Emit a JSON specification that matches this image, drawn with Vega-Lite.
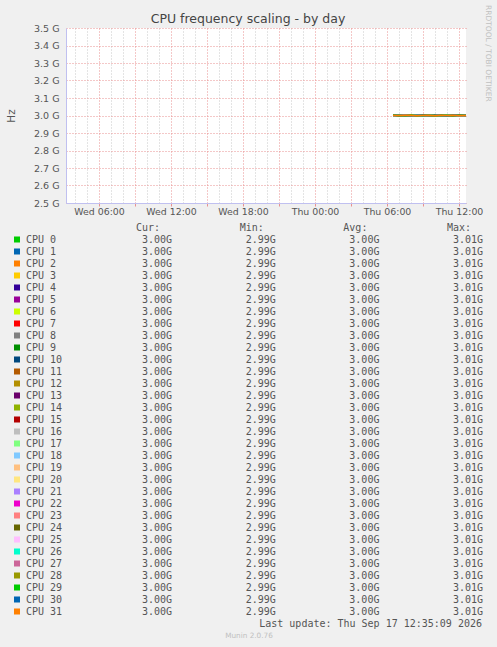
{
"$schema": "https://vega.github.io/schema/vega-lite/v6.json",
"width": 400,
"height": 175,
"autosize": {"type": "none"},
"padding": {"left": 66, "top": 28, "right": 31, "bottom": 444},
"background": "#f0f0f0",
"config": {"view": {"fill": "white", "stroke": null}, "font": "DejaVu Sans"},
"title": {"text": "CPU frequency scaling - by day", "font": "DejaVu Sans", "fontSize": 12.5, "fontWeight": "normal", "color": "#444444", "anchor": "middle", "frame": "group", "dx": -18, "baseline": "alphabetic", "offset": -30},
"datasets": {
"legend": [
{"c":"00","cpu":"CPU 0","cur":"3.00G","min":"2.99G","avg":"3.00G","max":"3.01G"},
{"c":"01","cpu":"CPU 1","cur":"3.00G","min":"2.99G","avg":"3.00G","max":"3.01G"},
{"c":"02","cpu":"CPU 2","cur":"3.00G","min":"2.99G","avg":"3.00G","max":"3.01G"},
{"c":"03","cpu":"CPU 3","cur":"3.00G","min":"2.99G","avg":"3.00G","max":"3.01G"},
{"c":"04","cpu":"CPU 4","cur":"3.00G","min":"2.99G","avg":"3.00G","max":"3.01G"},
{"c":"05","cpu":"CPU 5","cur":"3.00G","min":"2.99G","avg":"3.00G","max":"3.01G"},
{"c":"06","cpu":"CPU 6","cur":"3.00G","min":"2.99G","avg":"3.00G","max":"3.01G"},
{"c":"07","cpu":"CPU 7","cur":"3.00G","min":"2.99G","avg":"3.00G","max":"3.01G"},
{"c":"08","cpu":"CPU 8","cur":"3.00G","min":"2.99G","avg":"3.00G","max":"3.01G"},
{"c":"09","cpu":"CPU 9","cur":"3.00G","min":"2.99G","avg":"3.00G","max":"3.01G"},
{"c":"10","cpu":"CPU 10","cur":"3.00G","min":"2.99G","avg":"3.00G","max":"3.01G"},
{"c":"11","cpu":"CPU 11","cur":"3.00G","min":"2.99G","avg":"3.00G","max":"3.01G"},
{"c":"12","cpu":"CPU 12","cur":"3.00G","min":"2.99G","avg":"3.00G","max":"3.01G"},
{"c":"13","cpu":"CPU 13","cur":"3.00G","min":"2.99G","avg":"3.00G","max":"3.01G"},
{"c":"14","cpu":"CPU 14","cur":"3.00G","min":"2.99G","avg":"3.00G","max":"3.01G"},
{"c":"15","cpu":"CPU 15","cur":"3.00G","min":"2.99G","avg":"3.00G","max":"3.01G"},
{"c":"16","cpu":"CPU 16","cur":"3.00G","min":"2.99G","avg":"3.00G","max":"3.01G"},
{"c":"17","cpu":"CPU 17","cur":"3.00G","min":"2.99G","avg":"3.00G","max":"3.01G"},
{"c":"18","cpu":"CPU 18","cur":"3.00G","min":"2.99G","avg":"3.00G","max":"3.01G"},
{"c":"19","cpu":"CPU 19","cur":"3.00G","min":"2.99G","avg":"3.00G","max":"3.01G"},
{"c":"20","cpu":"CPU 20","cur":"3.00G","min":"2.99G","avg":"3.00G","max":"3.01G"},
{"c":"21","cpu":"CPU 21","cur":"3.00G","min":"2.99G","avg":"3.00G","max":"3.01G"},
{"c":"22","cpu":"CPU 22","cur":"3.00G","min":"2.99G","avg":"3.00G","max":"3.01G"},
{"c":"23","cpu":"CPU 23","cur":"3.00G","min":"2.99G","avg":"3.00G","max":"3.01G"},
{"c":"24","cpu":"CPU 24","cur":"3.00G","min":"2.99G","avg":"3.00G","max":"3.01G"},
{"c":"25","cpu":"CPU 25","cur":"3.00G","min":"2.99G","avg":"3.00G","max":"3.01G"},
{"c":"26","cpu":"CPU 26","cur":"3.00G","min":"2.99G","avg":"3.00G","max":"3.01G"},
{"c":"27","cpu":"CPU 27","cur":"3.00G","min":"2.99G","avg":"3.00G","max":"3.01G"},
{"c":"28","cpu":"CPU 28","cur":"3.00G","min":"2.99G","avg":"3.00G","max":"3.01G"},
{"c":"29","cpu":"CPU 29","cur":"3.00G","min":"2.99G","avg":"3.00G","max":"3.01G"},
{"c":"30","cpu":"CPU 30","cur":"3.00G","min":"2.99G","avg":"3.00G","max":"3.01G"},
{"c":"31","cpu":"CPU 31","cur":"3.00G","min":"2.99G","avg":"3.00G","max":"3.01G"}
],
"heads": [{"col":"Cur:"},{"col":"Min:"},{"col":"Avg:"},{"col":"Max:"}],
"freq": [
{"c":"00","t":"2026-09-17 06:30","v":3.000},{"c":"00","t":"2026-09-17 07:00","v":2.999},{"c":"00","t":"2026-09-17 07:30","v":3.001},{"c":"00","t":"2026-09-17 08:00","v":3.000},{"c":"00","t":"2026-09-17 08:30","v":2.999},{"c":"00","t":"2026-09-17 09:00","v":3.001},{"c":"00","t":"2026-09-17 09:30","v":3.000},{"c":"00","t":"2026-09-17 10:00","v":3.002},{"c":"00","t":"2026-09-17 10:30","v":2.999},{"c":"00","t":"2026-09-17 11:00","v":3.000},{"c":"00","t":"2026-09-17 11:30","v":3.001},{"c":"00","t":"2026-09-17 12:00","v":2.999},{"c":"00","t":"2026-09-17 12:35","v":3.000},
{"c":"01","t":"2026-09-17 06:30","v":2.999},{"c":"01","t":"2026-09-17 07:00","v":3.001},{"c":"01","t":"2026-09-17 07:30","v":3.000},{"c":"01","t":"2026-09-17 08:00","v":3.000},{"c":"01","t":"2026-09-17 08:30","v":3.002},{"c":"01","t":"2026-09-17 09:00","v":3.000},{"c":"01","t":"2026-09-17 09:30","v":2.998},{"c":"01","t":"2026-09-17 10:00","v":3.000},{"c":"01","t":"2026-09-17 10:30","v":3.001},{"c":"01","t":"2026-09-17 11:00","v":2.999},{"c":"01","t":"2026-09-17 11:30","v":3.000},{"c":"01","t":"2026-09-17 12:00","v":3.001},{"c":"01","t":"2026-09-17 12:35","v":2.999},
{"c":"02","t":"2026-09-17 06:30","v":3.001},{"c":"02","t":"2026-09-17 07:00","v":3.000},{"c":"02","t":"2026-09-17 07:30","v":2.998},{"c":"02","t":"2026-09-17 08:00","v":3.001},{"c":"02","t":"2026-09-17 08:30","v":3.000},{"c":"02","t":"2026-09-17 09:00","v":2.999},{"c":"02","t":"2026-09-17 09:30","v":3.002},{"c":"02","t":"2026-09-17 10:00","v":2.999},{"c":"02","t":"2026-09-17 10:30","v":3.000},{"c":"02","t":"2026-09-17 11:00","v":3.001},{"c":"02","t":"2026-09-17 11:30","v":2.999},{"c":"02","t":"2026-09-17 12:00","v":3.000},{"c":"02","t":"2026-09-17 12:35","v":3.001},
{"c":"03","t":"2026-09-17 06:30","v":3.000},{"c":"03","t":"2026-09-17 07:00","v":3.002},{"c":"03","t":"2026-09-17 07:30","v":3.000},{"c":"03","t":"2026-09-17 08:00","v":2.998},{"c":"03","t":"2026-09-17 08:30","v":3.001},{"c":"03","t":"2026-09-17 09:00","v":3.000},{"c":"03","t":"2026-09-17 09:30","v":2.999},{"c":"03","t":"2026-09-17 10:00","v":3.000},{"c":"03","t":"2026-09-17 10:30","v":3.002},{"c":"03","t":"2026-09-17 11:00","v":2.998},{"c":"03","t":"2026-09-17 11:30","v":3.000},{"c":"03","t":"2026-09-17 12:00","v":3.001},{"c":"03","t":"2026-09-17 12:35","v":3.000},
{"c":"04","t":"2026-09-17 06:30","v":3.000},{"c":"04","t":"2026-09-17 07:00","v":2.999},{"c":"04","t":"2026-09-17 07:30","v":3.001},{"c":"04","t":"2026-09-17 08:00","v":3.000},{"c":"04","t":"2026-09-17 08:30","v":2.999},{"c":"04","t":"2026-09-17 09:00","v":3.001},{"c":"04","t":"2026-09-17 09:30","v":3.000},{"c":"04","t":"2026-09-17 10:00","v":3.002},{"c":"04","t":"2026-09-17 10:30","v":2.999},{"c":"04","t":"2026-09-17 11:00","v":3.000},{"c":"04","t":"2026-09-17 11:30","v":3.001},{"c":"04","t":"2026-09-17 12:00","v":2.999},{"c":"04","t":"2026-09-17 12:35","v":3.000},
{"c":"05","t":"2026-09-17 06:30","v":2.999},{"c":"05","t":"2026-09-17 07:00","v":3.001},{"c":"05","t":"2026-09-17 07:30","v":3.000},{"c":"05","t":"2026-09-17 08:00","v":3.000},{"c":"05","t":"2026-09-17 08:30","v":3.002},{"c":"05","t":"2026-09-17 09:00","v":3.000},{"c":"05","t":"2026-09-17 09:30","v":2.998},{"c":"05","t":"2026-09-17 10:00","v":3.000},{"c":"05","t":"2026-09-17 10:30","v":3.001},{"c":"05","t":"2026-09-17 11:00","v":2.999},{"c":"05","t":"2026-09-17 11:30","v":3.000},{"c":"05","t":"2026-09-17 12:00","v":3.001},{"c":"05","t":"2026-09-17 12:35","v":2.999},
{"c":"06","t":"2026-09-17 06:30","v":3.001},{"c":"06","t":"2026-09-17 07:00","v":3.000},{"c":"06","t":"2026-09-17 07:30","v":2.998},{"c":"06","t":"2026-09-17 08:00","v":3.001},{"c":"06","t":"2026-09-17 08:30","v":3.000},{"c":"06","t":"2026-09-17 09:00","v":2.999},{"c":"06","t":"2026-09-17 09:30","v":3.002},{"c":"06","t":"2026-09-17 10:00","v":2.999},{"c":"06","t":"2026-09-17 10:30","v":3.000},{"c":"06","t":"2026-09-17 11:00","v":3.001},{"c":"06","t":"2026-09-17 11:30","v":2.999},{"c":"06","t":"2026-09-17 12:00","v":3.000},{"c":"06","t":"2026-09-17 12:35","v":3.001},
{"c":"07","t":"2026-09-17 06:30","v":3.000},{"c":"07","t":"2026-09-17 07:00","v":3.002},{"c":"07","t":"2026-09-17 07:30","v":3.000},{"c":"07","t":"2026-09-17 08:00","v":2.998},{"c":"07","t":"2026-09-17 08:30","v":3.001},{"c":"07","t":"2026-09-17 09:00","v":3.000},{"c":"07","t":"2026-09-17 09:30","v":2.999},{"c":"07","t":"2026-09-17 10:00","v":3.000},{"c":"07","t":"2026-09-17 10:30","v":3.002},{"c":"07","t":"2026-09-17 11:00","v":2.998},{"c":"07","t":"2026-09-17 11:30","v":3.000},{"c":"07","t":"2026-09-17 12:00","v":3.001},{"c":"07","t":"2026-09-17 12:35","v":3.000},
{"c":"08","t":"2026-09-17 06:30","v":2.996},{"c":"08","t":"2026-09-17 07:00","v":3.000},{"c":"08","t":"2026-09-17 07:30","v":3.004},{"c":"08","t":"2026-09-17 08:00","v":2.996},{"c":"08","t":"2026-09-17 08:30","v":3.000},{"c":"08","t":"2026-09-17 09:00","v":2.996},{"c":"08","t":"2026-09-17 09:30","v":3.004},{"c":"08","t":"2026-09-17 10:00","v":3.000},{"c":"08","t":"2026-09-17 10:30","v":2.996},{"c":"08","t":"2026-09-17 11:00","v":3.004},{"c":"08","t":"2026-09-17 11:30","v":3.000},{"c":"08","t":"2026-09-17 12:00","v":2.996},{"c":"08","t":"2026-09-17 12:35","v":3.000},
{"c":"09","t":"2026-09-17 06:30","v":2.999},{"c":"09","t":"2026-09-17 07:00","v":3.001},{"c":"09","t":"2026-09-17 07:30","v":3.000},{"c":"09","t":"2026-09-17 08:00","v":3.000},{"c":"09","t":"2026-09-17 08:30","v":3.002},{"c":"09","t":"2026-09-17 09:00","v":3.000},{"c":"09","t":"2026-09-17 09:30","v":2.998},{"c":"09","t":"2026-09-17 10:00","v":3.000},{"c":"09","t":"2026-09-17 10:30","v":3.001},{"c":"09","t":"2026-09-17 11:00","v":2.999},{"c":"09","t":"2026-09-17 11:30","v":3.000},{"c":"09","t":"2026-09-17 12:00","v":3.001},{"c":"09","t":"2026-09-17 12:35","v":2.999},
{"c":"10","t":"2026-09-17 06:30","v":3.001},{"c":"10","t":"2026-09-17 07:00","v":3.000},{"c":"10","t":"2026-09-17 07:30","v":2.998},{"c":"10","t":"2026-09-17 08:00","v":3.001},{"c":"10","t":"2026-09-17 08:30","v":3.000},{"c":"10","t":"2026-09-17 09:00","v":2.999},{"c":"10","t":"2026-09-17 09:30","v":3.002},{"c":"10","t":"2026-09-17 10:00","v":2.999},{"c":"10","t":"2026-09-17 10:30","v":3.000},{"c":"10","t":"2026-09-17 11:00","v":3.001},{"c":"10","t":"2026-09-17 11:30","v":2.999},{"c":"10","t":"2026-09-17 12:00","v":3.000},{"c":"10","t":"2026-09-17 12:35","v":3.001},
{"c":"11","t":"2026-09-17 06:30","v":3.000},{"c":"11","t":"2026-09-17 07:00","v":3.002},{"c":"11","t":"2026-09-17 07:30","v":3.000},{"c":"11","t":"2026-09-17 08:00","v":2.998},{"c":"11","t":"2026-09-17 08:30","v":3.001},{"c":"11","t":"2026-09-17 09:00","v":3.000},{"c":"11","t":"2026-09-17 09:30","v":2.999},{"c":"11","t":"2026-09-17 10:00","v":3.000},{"c":"11","t":"2026-09-17 10:30","v":3.002},{"c":"11","t":"2026-09-17 11:00","v":2.998},{"c":"11","t":"2026-09-17 11:30","v":3.000},{"c":"11","t":"2026-09-17 12:00","v":3.001},{"c":"11","t":"2026-09-17 12:35","v":3.000},
{"c":"12","t":"2026-09-17 06:30","v":3.000},{"c":"12","t":"2026-09-17 07:00","v":2.999},{"c":"12","t":"2026-09-17 07:30","v":3.001},{"c":"12","t":"2026-09-17 08:00","v":3.000},{"c":"12","t":"2026-09-17 08:30","v":2.999},{"c":"12","t":"2026-09-17 09:00","v":3.001},{"c":"12","t":"2026-09-17 09:30","v":3.000},{"c":"12","t":"2026-09-17 10:00","v":3.002},{"c":"12","t":"2026-09-17 10:30","v":2.999},{"c":"12","t":"2026-09-17 11:00","v":3.000},{"c":"12","t":"2026-09-17 11:30","v":3.001},{"c":"12","t":"2026-09-17 12:00","v":2.999},{"c":"12","t":"2026-09-17 12:35","v":3.000},
{"c":"13","t":"2026-09-17 06:30","v":2.999},{"c":"13","t":"2026-09-17 07:00","v":3.001},{"c":"13","t":"2026-09-17 07:30","v":3.000},{"c":"13","t":"2026-09-17 08:00","v":3.000},{"c":"13","t":"2026-09-17 08:30","v":3.002},{"c":"13","t":"2026-09-17 09:00","v":3.000},{"c":"13","t":"2026-09-17 09:30","v":2.998},{"c":"13","t":"2026-09-17 10:00","v":3.000},{"c":"13","t":"2026-09-17 10:30","v":3.001},{"c":"13","t":"2026-09-17 11:00","v":2.999},{"c":"13","t":"2026-09-17 11:30","v":3.000},{"c":"13","t":"2026-09-17 12:00","v":3.001},{"c":"13","t":"2026-09-17 12:35","v":2.999},
{"c":"14","t":"2026-09-17 06:30","v":3.001},{"c":"14","t":"2026-09-17 07:00","v":3.000},{"c":"14","t":"2026-09-17 07:30","v":2.998},{"c":"14","t":"2026-09-17 08:00","v":3.001},{"c":"14","t":"2026-09-17 08:30","v":3.000},{"c":"14","t":"2026-09-17 09:00","v":2.999},{"c":"14","t":"2026-09-17 09:30","v":3.002},{"c":"14","t":"2026-09-17 10:00","v":2.999},{"c":"14","t":"2026-09-17 10:30","v":3.000},{"c":"14","t":"2026-09-17 11:00","v":3.001},{"c":"14","t":"2026-09-17 11:30","v":2.999},{"c":"14","t":"2026-09-17 12:00","v":3.000},{"c":"14","t":"2026-09-17 12:35","v":3.001},
{"c":"15","t":"2026-09-17 06:30","v":3.000},{"c":"15","t":"2026-09-17 07:00","v":3.002},{"c":"15","t":"2026-09-17 07:30","v":3.000},{"c":"15","t":"2026-09-17 08:00","v":2.998},{"c":"15","t":"2026-09-17 08:30","v":3.001},{"c":"15","t":"2026-09-17 09:00","v":3.000},{"c":"15","t":"2026-09-17 09:30","v":2.999},{"c":"15","t":"2026-09-17 10:00","v":3.000},{"c":"15","t":"2026-09-17 10:30","v":3.002},{"c":"15","t":"2026-09-17 11:00","v":2.998},{"c":"15","t":"2026-09-17 11:30","v":3.000},{"c":"15","t":"2026-09-17 12:00","v":3.001},{"c":"15","t":"2026-09-17 12:35","v":3.000},
{"c":"16","t":"2026-09-17 06:30","v":3.000},{"c":"16","t":"2026-09-17 07:00","v":2.999},{"c":"16","t":"2026-09-17 07:30","v":3.001},{"c":"16","t":"2026-09-17 08:00","v":3.000},{"c":"16","t":"2026-09-17 08:30","v":2.999},{"c":"16","t":"2026-09-17 09:00","v":3.001},{"c":"16","t":"2026-09-17 09:30","v":3.000},{"c":"16","t":"2026-09-17 10:00","v":3.002},{"c":"16","t":"2026-09-17 10:30","v":2.999},{"c":"16","t":"2026-09-17 11:00","v":3.000},{"c":"16","t":"2026-09-17 11:30","v":3.001},{"c":"16","t":"2026-09-17 12:00","v":2.999},{"c":"16","t":"2026-09-17 12:35","v":3.000},
{"c":"17","t":"2026-09-17 06:30","v":2.999},{"c":"17","t":"2026-09-17 07:00","v":3.001},{"c":"17","t":"2026-09-17 07:30","v":3.000},{"c":"17","t":"2026-09-17 08:00","v":3.000},{"c":"17","t":"2026-09-17 08:30","v":3.002},{"c":"17","t":"2026-09-17 09:00","v":3.000},{"c":"17","t":"2026-09-17 09:30","v":2.998},{"c":"17","t":"2026-09-17 10:00","v":3.000},{"c":"17","t":"2026-09-17 10:30","v":3.001},{"c":"17","t":"2026-09-17 11:00","v":2.999},{"c":"17","t":"2026-09-17 11:30","v":3.000},{"c":"17","t":"2026-09-17 12:00","v":3.001},{"c":"17","t":"2026-09-17 12:35","v":2.999},
{"c":"18","t":"2026-09-17 06:30","v":3.001},{"c":"18","t":"2026-09-17 07:00","v":3.000},{"c":"18","t":"2026-09-17 07:30","v":2.998},{"c":"18","t":"2026-09-17 08:00","v":3.001},{"c":"18","t":"2026-09-17 08:30","v":3.000},{"c":"18","t":"2026-09-17 09:00","v":2.999},{"c":"18","t":"2026-09-17 09:30","v":3.002},{"c":"18","t":"2026-09-17 10:00","v":2.999},{"c":"18","t":"2026-09-17 10:30","v":3.000},{"c":"18","t":"2026-09-17 11:00","v":3.001},{"c":"18","t":"2026-09-17 11:30","v":2.999},{"c":"18","t":"2026-09-17 12:00","v":3.000},{"c":"18","t":"2026-09-17 12:35","v":3.001},
{"c":"19","t":"2026-09-17 06:30","v":3.000},{"c":"19","t":"2026-09-17 07:00","v":3.002},{"c":"19","t":"2026-09-17 07:30","v":3.000},{"c":"19","t":"2026-09-17 08:00","v":2.998},{"c":"19","t":"2026-09-17 08:30","v":3.001},{"c":"19","t":"2026-09-17 09:00","v":3.000},{"c":"19","t":"2026-09-17 09:30","v":2.999},{"c":"19","t":"2026-09-17 10:00","v":3.000},{"c":"19","t":"2026-09-17 10:30","v":3.002},{"c":"19","t":"2026-09-17 11:00","v":2.998},{"c":"19","t":"2026-09-17 11:30","v":3.000},{"c":"19","t":"2026-09-17 12:00","v":3.001},{"c":"19","t":"2026-09-17 12:35","v":3.000},
{"c":"20","t":"2026-09-17 06:30","v":3.000},{"c":"20","t":"2026-09-17 07:00","v":2.999},{"c":"20","t":"2026-09-17 07:30","v":3.001},{"c":"20","t":"2026-09-17 08:00","v":3.000},{"c":"20","t":"2026-09-17 08:30","v":2.999},{"c":"20","t":"2026-09-17 09:00","v":3.001},{"c":"20","t":"2026-09-17 09:30","v":3.000},{"c":"20","t":"2026-09-17 10:00","v":3.002},{"c":"20","t":"2026-09-17 10:30","v":2.999},{"c":"20","t":"2026-09-17 11:00","v":3.000},{"c":"20","t":"2026-09-17 11:30","v":3.001},{"c":"20","t":"2026-09-17 12:00","v":2.999},{"c":"20","t":"2026-09-17 12:35","v":3.000},
{"c":"21","t":"2026-09-17 06:30","v":2.999},{"c":"21","t":"2026-09-17 07:00","v":3.001},{"c":"21","t":"2026-09-17 07:30","v":3.000},{"c":"21","t":"2026-09-17 08:00","v":3.000},{"c":"21","t":"2026-09-17 08:30","v":3.002},{"c":"21","t":"2026-09-17 09:00","v":3.000},{"c":"21","t":"2026-09-17 09:30","v":2.998},{"c":"21","t":"2026-09-17 10:00","v":3.000},{"c":"21","t":"2026-09-17 10:30","v":3.001},{"c":"21","t":"2026-09-17 11:00","v":2.999},{"c":"21","t":"2026-09-17 11:30","v":3.000},{"c":"21","t":"2026-09-17 12:00","v":3.001},{"c":"21","t":"2026-09-17 12:35","v":2.999},
{"c":"22","t":"2026-09-17 06:30","v":3.001},{"c":"22","t":"2026-09-17 07:00","v":3.000},{"c":"22","t":"2026-09-17 07:30","v":2.998},{"c":"22","t":"2026-09-17 08:00","v":3.001},{"c":"22","t":"2026-09-17 08:30","v":3.000},{"c":"22","t":"2026-09-17 09:00","v":2.999},{"c":"22","t":"2026-09-17 09:30","v":3.002},{"c":"22","t":"2026-09-17 10:00","v":2.999},{"c":"22","t":"2026-09-17 10:30","v":3.000},{"c":"22","t":"2026-09-17 11:00","v":3.001},{"c":"22","t":"2026-09-17 11:30","v":2.999},{"c":"22","t":"2026-09-17 12:00","v":3.000},{"c":"22","t":"2026-09-17 12:35","v":3.001},
{"c":"23","t":"2026-09-17 06:30","v":3.000},{"c":"23","t":"2026-09-17 07:00","v":3.002},{"c":"23","t":"2026-09-17 07:30","v":3.000},{"c":"23","t":"2026-09-17 08:00","v":2.998},{"c":"23","t":"2026-09-17 08:30","v":3.001},{"c":"23","t":"2026-09-17 09:00","v":3.000},{"c":"23","t":"2026-09-17 09:30","v":2.999},{"c":"23","t":"2026-09-17 10:00","v":3.000},{"c":"23","t":"2026-09-17 10:30","v":3.002},{"c":"23","t":"2026-09-17 11:00","v":2.998},{"c":"23","t":"2026-09-17 11:30","v":3.000},{"c":"23","t":"2026-09-17 12:00","v":3.001},{"c":"23","t":"2026-09-17 12:35","v":3.000},
{"c":"24","t":"2026-09-17 06:30","v":3.000},{"c":"24","t":"2026-09-17 07:00","v":3.004},{"c":"24","t":"2026-09-17 07:30","v":2.996},{"c":"24","t":"2026-09-17 08:00","v":3.000},{"c":"24","t":"2026-09-17 08:30","v":3.004},{"c":"24","t":"2026-09-17 09:00","v":3.000},{"c":"24","t":"2026-09-17 09:30","v":2.996},{"c":"24","t":"2026-09-17 10:00","v":3.004},{"c":"24","t":"2026-09-17 10:30","v":3.000},{"c":"24","t":"2026-09-17 11:00","v":2.996},{"c":"24","t":"2026-09-17 11:30","v":3.004},{"c":"24","t":"2026-09-17 12:00","v":3.000},{"c":"24","t":"2026-09-17 12:35","v":3.000},
{"c":"25","t":"2026-09-17 06:30","v":2.999},{"c":"25","t":"2026-09-17 07:00","v":3.001},{"c":"25","t":"2026-09-17 07:30","v":3.000},{"c":"25","t":"2026-09-17 08:00","v":3.000},{"c":"25","t":"2026-09-17 08:30","v":3.002},{"c":"25","t":"2026-09-17 09:00","v":3.000},{"c":"25","t":"2026-09-17 09:30","v":2.998},{"c":"25","t":"2026-09-17 10:00","v":3.000},{"c":"25","t":"2026-09-17 10:30","v":3.001},{"c":"25","t":"2026-09-17 11:00","v":2.999},{"c":"25","t":"2026-09-17 11:30","v":3.000},{"c":"25","t":"2026-09-17 12:00","v":3.001},{"c":"25","t":"2026-09-17 12:35","v":2.999},
{"c":"26","t":"2026-09-17 06:30","v":3.001},{"c":"26","t":"2026-09-17 07:00","v":3.000},{"c":"26","t":"2026-09-17 07:30","v":2.998},{"c":"26","t":"2026-09-17 08:00","v":3.001},{"c":"26","t":"2026-09-17 08:30","v":3.000},{"c":"26","t":"2026-09-17 09:00","v":2.999},{"c":"26","t":"2026-09-17 09:30","v":3.002},{"c":"26","t":"2026-09-17 10:00","v":2.999},{"c":"26","t":"2026-09-17 10:30","v":3.000},{"c":"26","t":"2026-09-17 11:00","v":3.001},{"c":"26","t":"2026-09-17 11:30","v":2.999},{"c":"26","t":"2026-09-17 12:00","v":3.000},{"c":"26","t":"2026-09-17 12:35","v":3.001},
{"c":"27","t":"2026-09-17 06:30","v":3.000},{"c":"27","t":"2026-09-17 07:00","v":3.002},{"c":"27","t":"2026-09-17 07:30","v":3.000},{"c":"27","t":"2026-09-17 08:00","v":2.998},{"c":"27","t":"2026-09-17 08:30","v":3.001},{"c":"27","t":"2026-09-17 09:00","v":3.000},{"c":"27","t":"2026-09-17 09:30","v":2.999},{"c":"27","t":"2026-09-17 10:00","v":3.000},{"c":"27","t":"2026-09-17 10:30","v":3.002},{"c":"27","t":"2026-09-17 11:00","v":2.998},{"c":"27","t":"2026-09-17 11:30","v":3.000},{"c":"27","t":"2026-09-17 12:00","v":3.001},{"c":"27","t":"2026-09-17 12:35","v":3.000},
{"c":"28","t":"2026-09-17 06:30","v":3.004},{"c":"28","t":"2026-09-17 07:00","v":2.996},{"c":"28","t":"2026-09-17 07:30","v":3.000},{"c":"28","t":"2026-09-17 08:00","v":3.004},{"c":"28","t":"2026-09-17 08:30","v":2.996},{"c":"28","t":"2026-09-17 09:00","v":3.004},{"c":"28","t":"2026-09-17 09:30","v":3.000},{"c":"28","t":"2026-09-17 10:00","v":2.996},{"c":"28","t":"2026-09-17 10:30","v":3.004},{"c":"28","t":"2026-09-17 11:00","v":3.000},{"c":"28","t":"2026-09-17 11:30","v":2.996},{"c":"28","t":"2026-09-17 12:00","v":3.004},{"c":"28","t":"2026-09-17 12:35","v":3.000},
{"c":"29","t":"2026-09-17 06:30","v":3.000},{"c":"29","t":"2026-09-17 07:00","v":3.001},{"c":"29","t":"2026-09-17 07:30","v":2.999},{"c":"29","t":"2026-09-17 08:00","v":3.000},{"c":"29","t":"2026-09-17 08:30","v":3.000},{"c":"29","t":"2026-09-17 09:00","v":2.999},{"c":"29","t":"2026-09-17 09:30","v":3.001},{"c":"29","t":"2026-09-17 10:00","v":3.000},{"c":"29","t":"2026-09-17 10:30","v":2.999},{"c":"29","t":"2026-09-17 11:00","v":3.001},{"c":"29","t":"2026-09-17 11:30","v":3.000},{"c":"29","t":"2026-09-17 12:00","v":3.000},{"c":"29","t":"2026-09-17 12:35","v":3.000},
{"c":"30","t":"2026-09-17 06:30","v":3.000},{"c":"30","t":"2026-09-17 07:00","v":3.000},{"c":"30","t":"2026-09-17 07:30","v":3.001},{"c":"30","t":"2026-09-17 08:00","v":2.999},{"c":"30","t":"2026-09-17 08:30","v":3.000},{"c":"30","t":"2026-09-17 09:00","v":3.001},{"c":"30","t":"2026-09-17 09:30","v":3.000},{"c":"30","t":"2026-09-17 10:00","v":3.000},{"c":"30","t":"2026-09-17 10:30","v":3.000},{"c":"30","t":"2026-09-17 11:00","v":2.999},{"c":"30","t":"2026-09-17 11:30","v":3.001},{"c":"30","t":"2026-09-17 12:00","v":3.000},{"c":"30","t":"2026-09-17 12:35","v":3.000},
{"c":"31","t":"2026-09-17 06:30","v":3.000},{"c":"31","t":"2026-09-17 07:00","v":3.000},{"c":"31","t":"2026-09-17 07:30","v":3.001},{"c":"31","t":"2026-09-17 08:00","v":3.000},{"c":"31","t":"2026-09-17 08:30","v":2.999},{"c":"31","t":"2026-09-17 09:00","v":3.000},{"c":"31","t":"2026-09-17 09:30","v":3.001},{"c":"31","t":"2026-09-17 10:00","v":2.999},{"c":"31","t":"2026-09-17 10:30","v":3.000},{"c":"31","t":"2026-09-17 11:00","v":3.000},{"c":"31","t":"2026-09-17 11:30","v":3.001},{"c":"31","t":"2026-09-17 12:00","v":2.999},{"c":"31","t":"2026-09-17 12:35","v":3.000}
]
},
"layer": [
{
"data": {"name": "freq"},
"mark": {"type": "line", "strokeWidth": 1.5},
"encoding": {
"x": {"field": "t", "type": "temporal",
 "scale": {"domain": ["2026-09-16 03:15", "2026-09-17 12:35"]},
 "axis": {"title": null, "tickCount": 34,
  "labelExpr": "hours(datum.value) % 6 === 0 ? timeFormat(datum.value, '%a %H:%M') : ''",
  "labelOverlap": false, "labelFlush": false, "labelFontSize": 9.4, "labelColor": "#555555", "labelPadding": 1,
  "domainColor": "#c0c0f0",
  "gridDash": [1, 2], "gridOpacity": 1,
  "gridColor": {"condition": {"test": "hours(datum.value) % 3 === 0", "value": "#e89090"}, "value": "#c8c8c8"},
  "tickSize": 3,
  "tickColor": {"condition": {"test": "hours(datum.value) % 3 === 0", "value": "#e89090"}, "value": "rgba(0,0,0,0)"}}},
"y": {"field": "v", "type": "quantitative",
 "scale": {"domain": [2.5, 3.5], "zero": false, "nice": false},
 "axis": {"title": "Hz", "values": [2.5, 2.6, 2.7, 2.8, 2.9, 3.0, 3.1, 3.2, 3.3, 3.4, 3.5],
  "labelExpr": "format(datum.value, '.1f') + ' G'",
  "labelFontSize": 9.5, "labelColor": "#555555", "labelPadding": 7,
  "ticks": false,
  "domainColor": "#c0c0f0",
  "gridColor": "#e89090", "gridDash": [1, 2], "gridOpacity": 1,
  "titleFontSize": 10.5, "titleFontWeight": "normal", "titleColor": "#555555", "titlePadding": 17}},
"color": {"field": "c", "type": "nominal",
 "scale": {"domain": ["00","01","02","03","04","05","06","07","08","09","10","11","12","13","14","15","16","17","18","19","20","21","22","23","24","25","26","27","28","29","30","31"],
  "range": ["#00CC00","#0066B3","#FF8000","#FFCC00","#330099","#990099","#CCFF00","#FF0000","#808080","#008F00","#00487D","#B35A00","#B38F00","#6B006B","#8FB300","#B30000","#BEBEBE","#80FF80","#80C9FF","#FFC080","#FFE680","#AA80FF","#EE00CC","#FF8080","#666600","#FFBFFF","#00FFCC","#CC6699","#999900","#00CC00","#0066B3","#FF8000"]},
 "legend": null}
}
},
{
"data": {"values": [{"txt": "RRDTOOL / TOBI OETIKER"}]},
"mark": {"type": "text", "angle": 90, "align": "left", "baseline": "middle", "font": "DejaVu Sans", "fontSize": 7.5, "fill": "#c0c0c0"},
"encoding": {
"x": {"datum": "rrd", "type": "nominal", "scale": {"type": "point", "domain": ["rrd"], "range": [422, 422], "padding": 0}, "axis": null},
"y": {"datum": "rrd", "type": "nominal", "scale": {"type": "point", "domain": ["rrd"], "range": [-23, -23], "padding": 0}, "axis": null},
"text": {"field": "txt"}
}
},
{
"resolve": {"scale": {"x": "independent"}, "axis": {"x": "independent"}},
"layer": [
{
"data": {"name": "legend"},
"mark": {"type": "square", "size": 36, "opacity": 1},
"encoding": {
"x": {"datum": "swatch", "type": "nominal", "scale": {"type": "point", "domain": ["swatch", "label"], "range": [-49, -40], "padding": 0}, "axis": null},
"y": {"field": "cpu", "type": "nominal", "axis": null,
 "scale": {"type": "point", "padding": 0, "range": [199.5, 607.5], "domain": ["hdr","CPU 0","CPU 1","CPU 2","CPU 3","CPU 4","CPU 5","CPU 6","CPU 7","CPU 8","CPU 9","CPU 10","CPU 11","CPU 12","CPU 13","CPU 14","CPU 15","CPU 16","CPU 17","CPU 18","CPU 19","CPU 20","CPU 21","CPU 22","CPU 23","CPU 24","CPU 25","CPU 26","CPU 27","CPU 28","CPU 29","CPU 30","CPU 31","upd","munin"]}},
"color": {"field": "c", "type": "nominal",
 "scale": {"domain": ["00","01","02","03","04","05","06","07","08","09","10","11","12","13","14","15","16","17","18","19","20","21","22","23","24","25","26","27","28","29","30","31"],
  "range": ["#00CC00","#0066B3","#FF8000","#FFCC00","#330099","#990099","#CCFF00","#FF0000","#808080","#008F00","#00487D","#B35A00","#B38F00","#6B006B","#8FB300","#B30000","#BEBEBE","#80FF80","#80C9FF","#FFC080","#FFE680","#AA80FF","#EE00CC","#FF8080","#666600","#FFBFFF","#00FFCC","#CC6699","#999900","#00CC00","#0066B3","#FF8000"]},
 "legend": null}
}
},
{
"data": {"name": "legend"},
"mark": {"type": "text", "align": "left", "baseline": "middle", "font": "DejaVu Sans Mono", "fontSize": 10, "fill": "#555555"},
"encoding": {
"x": {"datum": "label", "type": "nominal", "scale": {"type": "point", "domain": ["swatch", "label"], "range": [-49, -40], "padding": 0}, "axis": null},
"y": {"field": "cpu", "type": "nominal", "axis": null,
 "scale": {"type": "point", "padding": 0, "range": [199.5, 607.5], "domain": ["hdr","CPU 0","CPU 1","CPU 2","CPU 3","CPU 4","CPU 5","CPU 6","CPU 7","CPU 8","CPU 9","CPU 10","CPU 11","CPU 12","CPU 13","CPU 14","CPU 15","CPU 16","CPU 17","CPU 18","CPU 19","CPU 20","CPU 21","CPU 22","CPU 23","CPU 24","CPU 25","CPU 26","CPU 27","CPU 28","CPU 29","CPU 30","CPU 31","upd","munin"]}},
"text": {"field": "cpu"}
}
},
{
"data": {"name": "heads"},
"mark": {"type": "text", "align": "left", "baseline": "middle", "font": "DejaVu Sans Mono", "fontSize": 10, "fill": "#555555"},
"encoding": {
"x": {"field": "col", "type": "nominal", "scale": {"type": "point", "domain": ["Cur:", "Min:", "Avg:", "Max:"], "range": [70, 381], "padding": 0}, "axis": null},
"y": {"datum": "hdr", "type": "nominal", "axis": null,
 "scale": {"type": "point", "padding": 0, "range": [199.5, 607.5], "domain": ["hdr","CPU 0","CPU 1","CPU 2","CPU 3","CPU 4","CPU 5","CPU 6","CPU 7","CPU 8","CPU 9","CPU 10","CPU 11","CPU 12","CPU 13","CPU 14","CPU 15","CPU 16","CPU 17","CPU 18","CPU 19","CPU 20","CPU 21","CPU 22","CPU 23","CPU 24","CPU 25","CPU 26","CPU 27","CPU 28","CPU 29","CPU 30","CPU 31","upd","munin"]}},
"text": {"field": "col"}
}
},
{
"data": {"name": "legend"},
"transform": [{"fold": ["cur", "min", "avg", "max"], "as": ["stat", "txt"]}],
"mark": {"type": "text", "align": "left", "baseline": "middle", "font": "DejaVu Sans Mono", "fontSize": 10, "fill": "#555555", "dx": 6},
"encoding": {
"x": {"field": "stat", "type": "nominal", "scale": {"type": "point", "domain": ["cur", "min", "avg", "max"], "range": [70, 381], "padding": 0}, "axis": null},
"y": {"field": "cpu", "type": "nominal", "axis": null,
 "scale": {"type": "point", "padding": 0, "range": [199.5, 607.5], "domain": ["hdr","CPU 0","CPU 1","CPU 2","CPU 3","CPU 4","CPU 5","CPU 6","CPU 7","CPU 8","CPU 9","CPU 10","CPU 11","CPU 12","CPU 13","CPU 14","CPU 15","CPU 16","CPU 17","CPU 18","CPU 19","CPU 20","CPU 21","CPU 22","CPU 23","CPU 24","CPU 25","CPU 26","CPU 27","CPU 28","CPU 29","CPU 30","CPU 31","upd","munin"]}},
"text": {"field": "txt"}
}
},
{
"data": {"values": [{"txt": "Last update: Thu Sep 17 12:35:09 2026"}]},
"mark": {"type": "text", "align": "right", "baseline": "middle", "font": "DejaVu Sans Mono", "fontSize": 10, "fill": "#555555"},
"encoding": {
"x": {"datum": "upd", "type": "nominal", "scale": {"type": "point", "domain": ["munin", "upd"], "range": [183, 416], "padding": 0}, "axis": null},
"y": {"datum": "upd", "type": "nominal", "axis": null,
 "scale": {"type": "point", "padding": 0, "range": [199.5, 607.5], "domain": ["hdr","CPU 0","CPU 1","CPU 2","CPU 3","CPU 4","CPU 5","CPU 6","CPU 7","CPU 8","CPU 9","CPU 10","CPU 11","CPU 12","CPU 13","CPU 14","CPU 15","CPU 16","CPU 17","CPU 18","CPU 19","CPU 20","CPU 21","CPU 22","CPU 23","CPU 24","CPU 25","CPU 26","CPU 27","CPU 28","CPU 29","CPU 30","CPU 31","upd","munin"]}},
"text": {"field": "txt"}
}
},
{
"data": {"values": [{"txt": "Munin 2.0.76"}]},
"mark": {"type": "text", "align": "center", "baseline": "middle", "font": "DejaVu Sans", "fontSize": 7.3, "fill": "#c0c0c0"},
"encoding": {
"x": {"datum": "munin", "type": "nominal", "scale": {"type": "point", "domain": ["munin", "upd"], "range": [183, 416], "padding": 0}, "axis": null},
"y": {"datum": "munin", "type": "nominal", "axis": null,
 "scale": {"type": "point", "padding": 0, "range": [199.5, 607.5], "domain": ["hdr","CPU 0","CPU 1","CPU 2","CPU 3","CPU 4","CPU 5","CPU 6","CPU 7","CPU 8","CPU 9","CPU 10","CPU 11","CPU 12","CPU 13","CPU 14","CPU 15","CPU 16","CPU 17","CPU 18","CPU 19","CPU 20","CPU 21","CPU 22","CPU 23","CPU 24","CPU 25","CPU 26","CPU 27","CPU 28","CPU 29","CPU 30","CPU 31","upd","munin"]}},
"text": {"field": "txt"}
}
}
]
}
],
"resolve": {"scale": {"x": "independent", "y": "independent", "color": "independent"}, "axis": {"x": "independent", "y": "independent"}}
}
